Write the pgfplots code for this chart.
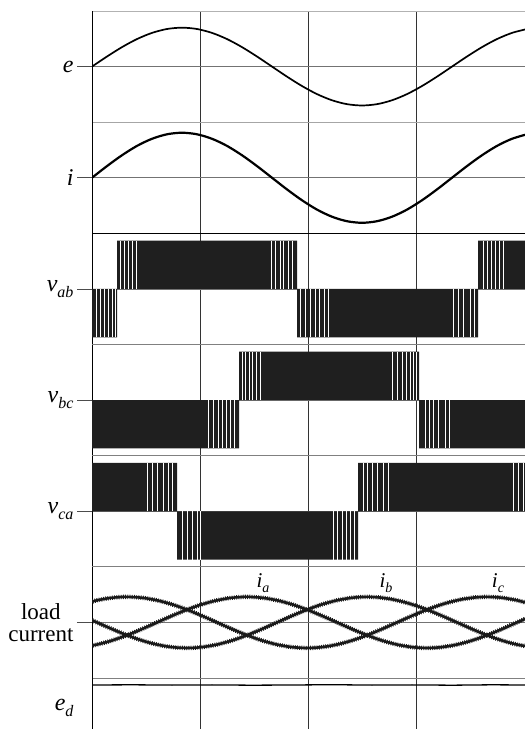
\documentclass[border=0pt]{standalone}
\usepackage{fontspec}
\setmainfont{Liberation Serif}
\usepackage{pgfplots}
\pgfplotsset{compat=1.18}
\newcommand\lab{\fontsize{24}{21}\selectfont}
\newcommand\sub[1]{\raisebox{-0.25em}{\fontsize{16}{16}\selectfont\itshape #1}}
\newcommand\subs[1]{\raisebox{-0.25em}{\fontsize{14}{14}\selectfont\itshape #1}}
\pgfplotsset{
  panel/.style={
    at={(92pt,#1)}, anchor=north west,
    scale only axis, width=433pt, height=111.17pt,
    xmin=0, xmax=433, ymin=-1, ymax=1,
    axis x line*=top, axis y line*=left,
    x axis line style={-, draw=black!50, line width=0.8pt},
    y axis line style={-, draw=black, line width=1pt},
    xtick={108.25,216.5,324.75}, xticklabels={},
    xmajorgrids, ymajorgrids,
    major x grid style={black!80, line width=0.8pt},
    major y grid style={black!55, line width=0.7pt},
    xtick style={draw=none},
    ytick={0},
    ytick style={black!70, line width=0.8pt},
    tick align=outside, major tick length=15pt,
    yticklabel style={font=\lab},
  },
  pwm/.style={const plot, fill=black!88, draw=none},
  gap/.style={ycomb, white, line width=0.7pt, mark=none},
  lc/.style={smooth, black!90, line width=2.6pt,
    postaction={draw, black!90, line width=4.4pt, dash pattern=on 0.8pt off 1.4pt}},
}
\begin{document}
\begin{tikzpicture}[x=1pt,y=1pt]
\useasboundingbox (0,0) rectangle (525,729);

% e
\begin{axis}[panel=718pt, x axis line style={-, draw=black!30, line width=0.8pt},
  yticklabels={{\itshape e}}]
\addplot[smooth, black, line width=1.7pt] coordinates {
(0,0) (15,.181) (30,.35) (45,.495) (60,.606) (75,.676) (90,.70) (105,.676)
(120,.606) (135,.495) (150,.35) (165,.181) (180,0) (195,-.181) (210,-.35)
(225,-.495) (240,-.606) (255,-.676) (270,-.70) (285,-.676) (300,-.606)
(315,-.495) (330,-.35) (345,-.181) (360,0) (375,.181) (390,.35) (405,.495)
(420,.606) (435,.676)};
\end{axis}

% i
\begin{axis}[panel=606.83pt, x axis line style={-, draw=black!35, line width=0.8pt},
  yticklabels={{\itshape i}}]
\addplot[smooth, black, line width=2.2pt] coordinates {
(0,0) (15,.21) (30,.405) (45,.573) (60,.701) (75,.782) (90,.81) (105,.782)
(120,.701) (135,.573) (150,.405) (165,.21) (180,0) (195,-.21) (210,-.405)
(225,-.573) (240,-.701) (255,-.782) (270,-.81) (285,-.782) (300,-.701)
(315,-.573) (330,-.405) (345,-.21) (360,0) (375,.21) (390,.405) (405,.573)
(420,.701) (435,.782)};
\end{axis}

% v_ab
\begin{axis}[panel=495.66pt, x axis line style={-, draw=black, line width=1.1pt},
  yticklabels={{\itshape v\sub{ab}}}]
\addplot[pwm] coordinates {(0,-0.87) (25,0.87) (205,-0.87) (386,0.87) (433,0.87)} \closedcycle;
\addplot[gap] coordinates {(4,-0.87) (8,-0.87) (12.5,-0.87) (16.5,-0.87) (20.5,-0.87) (23.5,-0.87)
(208,-0.87) (213,-0.87) (218,-0.87) (223,-0.87) (227,-0.87) (232,-0.87) (236,-0.87)
(361,-0.87) (366,-0.87) (371,-0.87) (378,-0.87) (382,-0.87)};
\addplot[gap] coordinates {(28,0.87) (32.5,0.87) (36.5,0.87) (40.5,0.87) (44,0.87)
(179,0.87) (183,0.87) (188,0.87) (191,0.87) (196,0.87) (200,0.87)
(391,0.87) (395,0.87) (399,0.87) (403,0.87) (407,0.87) (411,0.87)};
\end{axis}

% v_bc
\begin{axis}[panel=384.49pt, yticklabels={{\itshape v\sub{bc}}}]
\addplot[pwm] coordinates {(0,-0.87) (147,0.87) (327,-0.87) (433,-0.87)} \closedcycle;
\addplot[gap] coordinates {(116,-0.87) (121,-0.87) (126,-0.87) (130,-0.87) (134,-0.87) (138,-0.87) (142,-0.87)
(333,-0.87) (337,-0.87) (341,-0.87) (346,-0.87) (353,-0.87) (357,-0.87)};
\addplot[gap] coordinates {(150,0.87) (153.5,0.87) (157,0.87) (160.5,0.87) (164,0.87) (168,0.87)
(300,0.87) (305,0.87) (310,0.87) (314,0.87) (318,0.87) (321,0.87) (324,0.87)};
\end{axis}

% v_ca
\begin{axis}[panel=273.32pt, yticklabels={{\itshape v\sub{ca}}}]
\addplot[pwm] coordinates {(0,0.87) (85,-0.87) (266,0.87) (433,0.87)} \closedcycle;
\addplot[gap] coordinates {(55,0.87) (60,0.87) (65,0.87) (71,0.87) (76,0.87) (80,0.87)
(271,0.87) (275,0.87) (280,0.87) (285,0.87) (291,0.87) (296,0.87)
(421,0.87) (426,0.87) (431,0.87)};
\addplot[gap] coordinates {(90,-0.87) (95,-0.87) (100,-0.87) (105,-0.87) (108,-0.87)
(241,-0.87) (245,-0.87) (250,-0.87) (254,-0.87) (258,-0.87) (262,-0.87)};
\end{axis}

% load current
\begin{axis}[panel=162.15pt, yticklabels={{load\\current}},
  yticklabel style={align=center, font=\fontsize{23}{22}\selectfont}]
\addplot[lc] coordinates {
(-10,-.444) (5,-.398) (20,-.325) (35,-.23) (50,-.119) (65,0) (80,.119) (95,.23)
(110,.325) (125,.398) (140,.444) (155,.46) (170,.444) (185,.398) (200,.325)
(215,.23) (230,.119) (245,0) (260,-.119) (275,-.23) (290,-.325) (305,-.398)
(320,-.444) (335,-.46) (350,-.444) (365,-.398) (380,-.325) (395,-.23)
(410,-.119) (425,0) (440,.119)};
\addplot[lc] coordinates {
(-10,.119) (5,0) (20,-.119) (35,-.23) (50,-.325) (65,-.398) (80,-.444) (95,-.46)
(110,-.444) (125,-.398) (140,-.325) (155,-.23) (170,-.119) (185,0) (200,.119)
(215,.23) (230,.325) (245,.398) (260,.444) (275,.46) (290,.444) (305,.398)
(320,.325) (335,.23) (350,.119) (365,0) (380,-.119) (395,-.23) (410,-.325)
(425,-.398) (440,-.444)};
\addplot[lc] coordinates {
(-10,.325) (5,.398) (20,.444) (35,.46) (50,.444) (65,.398) (80,.325) (95,.23)
(110,.119) (125,0) (140,-.119) (155,-.23) (170,-.325) (185,-.398) (200,-.444)
(215,-.46) (230,-.444) (245,-.398) (260,-.325) (275,-.23) (290,-.119) (305,0)
(320,.119) (335,.23) (350,.325) (365,.398) (380,.444) (395,.46) (410,.444)
(425,.398) (440,.325)};
\node[font=\fontsize{21}{21}\selectfont] at (axis cs:171,0.71) {\itshape i\subs{a}};
\node[font=\fontsize{21}{21}\selectfont] at (axis cs:294,0.71) {\itshape i\subs{b}};
\node[font=\fontsize{21}{21}\selectfont] at (axis cs:406,0.71) {\itshape i\subs{c}};
\end{axis}

% e_d
\begin{axis}[panel=50.98pt, height=50.98pt, ymin=0, ymax=50.98, ytick={21},
  ymajorgrids=false, ytick style={draw=none}, yticklabels={{\itshape e\sub{d}}}]
\addplot[black, line width=1.3pt] coordinates {(0,44) (40,44.2) (80,43.9) (120,44.1)
(160,43.8) (200,44) (240,44.3) (280,43.9) (320,44.1) (360,43.8) (400,44.2) (433,44)};
\end{axis}
\end{tikzpicture}
\end{document}
